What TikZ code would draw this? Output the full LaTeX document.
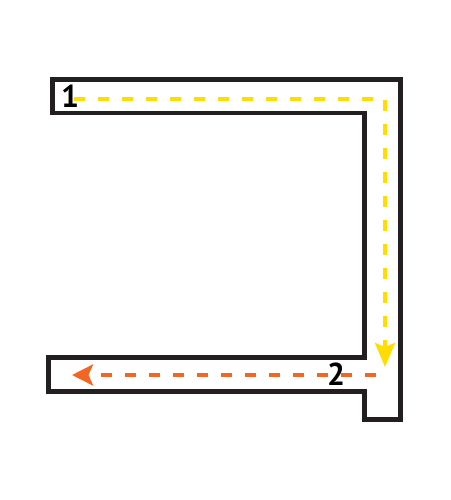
\documentclass[tikz,border=0pt]{standalone}
\usepackage{fontspec}
\setmainfont{PT Sans}
\usetikzlibrary{arrows.meta}
\definecolor{wallgray}{HTML}{231F20}
\definecolor{pathyellow}{HTML}{FFDD00}
\definecolor{pathorange}{HTML}{F26522}
\begin{document}
\begin{tikzpicture}
    [
    x=0.02cm,y=-0.02cm,
    wall/.style={draw=wallgray,line width=0.1cm,line join=miter},
    route/.style={line width=0.075cm,dash pattern=on 0.23cm off 0.25cm},
    num/.style={font=\fontsize{18}{18}\selectfont\bfseries,text=black,inner sep=0pt},
    ]
    \useasboundingbox (0,0) rectangle (450,500);
    % outline of the channel
    \draw[wall] (52,80) -- (400,80) -- (400,419) -- (364,419) -- (364,391)
        -- (48,391) -- (48,357) -- (364,357) -- (364,113) -- (52,113) -- cycle;
    % route points
    \coordinate (start) at (74,99);
    \coordinate (turn) at (385,99);
    \coordinate (stop) at (385,367);
    \coordinate (back) at (376,375);
    \coordinate (exit) at (72,375);
    \draw[route,pathyellow,-{Stealth[length=0.48cm,width=0.4cm,inset=0.08cm]}]
        (start) -- (turn) -- (stop);
    \draw[route,pathorange,-{Stealth[length=0.42cm,width=0.42cm,inset=0.09cm]}]
        (back) -- (exit);
    % labels
    \node[num] (one) at (70,96) {1};
    \node[num] (two) at (336,374) {2};
\end{tikzpicture}
\end{document}
